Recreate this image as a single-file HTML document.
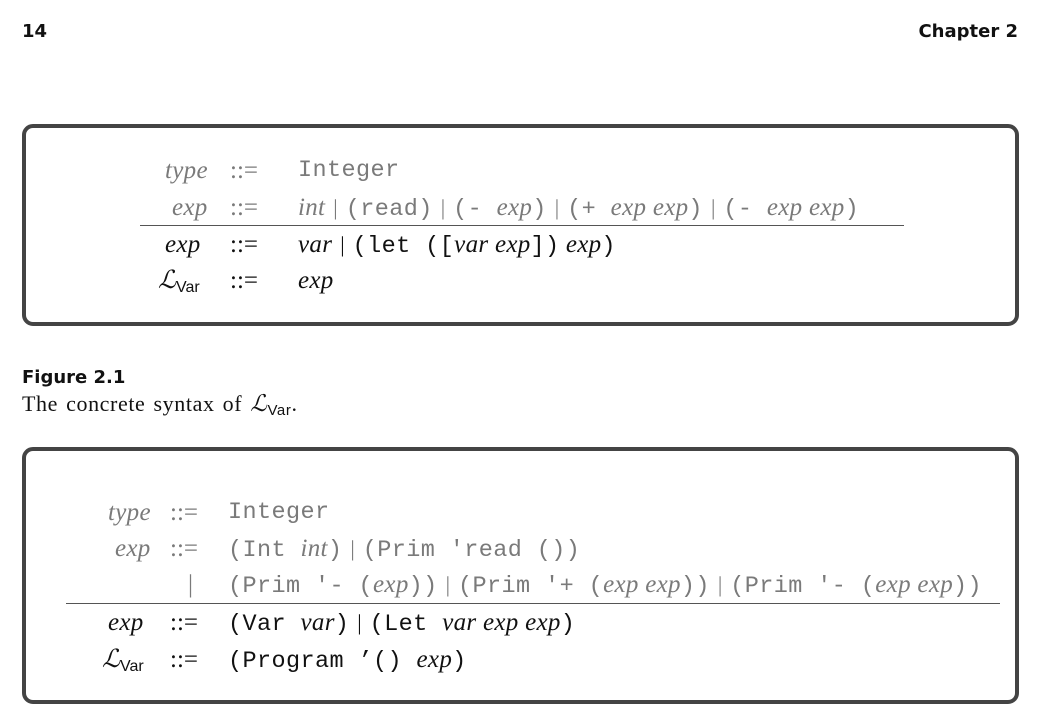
<!DOCTYPE html>
<html><head><meta charset="utf-8"><style>
body{margin:0;width:1041px;height:727px;background:#fff;position:relative;overflow:hidden;font-family:"Liberation Serif",serif}
.h{position:absolute;font-family:"DejaVu Sans","Liberation Sans",sans-serif;font-weight:bold;font-size:18px;color:#111}
.box{position:absolute;border:4px solid #444;border-radius:11px;box-sizing:border-box}
.r{position:absolute;font-size:25px;line-height:24px;white-space:nowrap;color:#111}
.g{color:#7a7a7a}
i{font-style:italic;letter-spacing:0.3px}
.m{font-family:"Liberation Mono",monospace;font-size:23.5px;letter-spacing:0.4px}
.b{margin:0 8px;font-size:22px}
.L{font-family:"Liberation Serif",serif;font-style:italic;font-size:25px}
sub{font-family:"Liberation Sans",sans-serif;font-size:16px;vertical-align:-4px;font-style:normal}
.rule{position:absolute;height:1px;background:#555}
.cap{position:absolute;font-size:22px;color:#111;letter-spacing:0.6px;word-spacing:2px}
</style></head><body>
<div class="h" style="left:22px;top:21px">14</div>
<div class="h" style="right:23px;top:21px">Chapter 2</div>

<div class="box" style="left:22px;top:124px;width:997px;height:202px"></div>
<div class="r g" style="left:165px;top:159px"><i>type</i></div>
<div class="r g" style="left:230px;top:159px">::=</div>
<div class="r g m" style="left:298px;top:159px">Integer</div>
<div class="r g" style="left:172px;top:196px"><i>exp</i></div>
<div class="r g" style="left:230px;top:196px">::=</div>
<div class="r g" style="left:298px;top:196px"><i>int</i><span class="b">|</span><span class="m">(read)</span><span class="b">|</span><span class="m">(- </span><i>exp</i><span class="m">)</span><span class="b">|</span><span class="m">(+ </span><i>exp exp</i><span class="m">)</span><span class="b">|</span><span class="m">(- </span><i>exp exp</i><span class="m">)</span></div>
<div class="rule" style="left:140px;top:225px;width:764px"></div>
<div class="r" style="left:165px;top:233px"><i>exp</i></div>
<div class="r" style="left:230px;top:233px">::=</div>
<div class="r" style="left:298px;top:233px"><i>var</i><span class="b">|</span><span class="m">(let ([</span><i>var exp</i><span class="m">])</span> <i>exp</i><span class="m">)</span></div>
<div class="r" style="left:158px;top:269px"><span class="L">ℒ</span><sub>Var</sub></div>
<div class="r" style="left:230px;top:269px">::=</div>
<div class="r" style="left:298px;top:269px"><i>exp</i></div>

<div class="h" style="left:22px;top:367px">Figure 2.1</div>
<div class="cap" style="left:22px;top:391px">The concrete syntax of <span class="L" style="font-size:23px">ℒ</span><sub style="font-size:15px">Var</sub>.</div>

<div class="box" style="left:22px;top:447px;width:997px;height:257px"></div>
<div class="r g" style="left:108px;top:501px"><i>type</i></div>
<div class="r g" style="left:170px;top:501px">::=</div>
<div class="r g m" style="left:228px;top:501px">Integer</div>
<div class="r g" style="left:115px;top:537px"><i>exp</i></div>
<div class="r g" style="left:170px;top:537px">::=</div>
<div class="r g" style="left:228px;top:537px"><span class="m">(Int </span><i>int</i><span class="m">)</span><span class="b">|</span><span class="m">(Prim 'read ())</span></div>
<div class="r g" style="left:188px;top:573px">|</div>
<div class="r g" style="left:228px;top:573px"><span class="m">(Prim '- (</span><i>exp</i><span class="m">))</span><span class="b">|</span><span class="m">(Prim '+ (</span><i>exp exp</i><span class="m">))</span><span class="b">|</span><span class="m">(Prim '- (</span><i>exp exp</i><span class="m">))</span></div>
<div class="rule" style="left:66px;top:603px;width:934px"></div>
<div class="r" style="left:108px;top:611px"><i>exp</i></div>
<div class="r" style="left:170px;top:611px">::=</div>
<div class="r" style="left:228px;top:611px"><span class="m">(Var </span><i>var</i><span class="m">)</span><span class="b">|</span><span class="m">(Let </span><i>var exp exp</i><span class="m">)</span></div>
<div class="r" style="left:102px;top:648px"><span class="L">ℒ</span><sub>Var</sub></div>
<div class="r" style="left:170px;top:648px">::=</div>
<div class="r" style="left:228px;top:648px"><span class="m">(Program ’() </span><i>exp</i><span class="m">)</span></div>
</body></html>
